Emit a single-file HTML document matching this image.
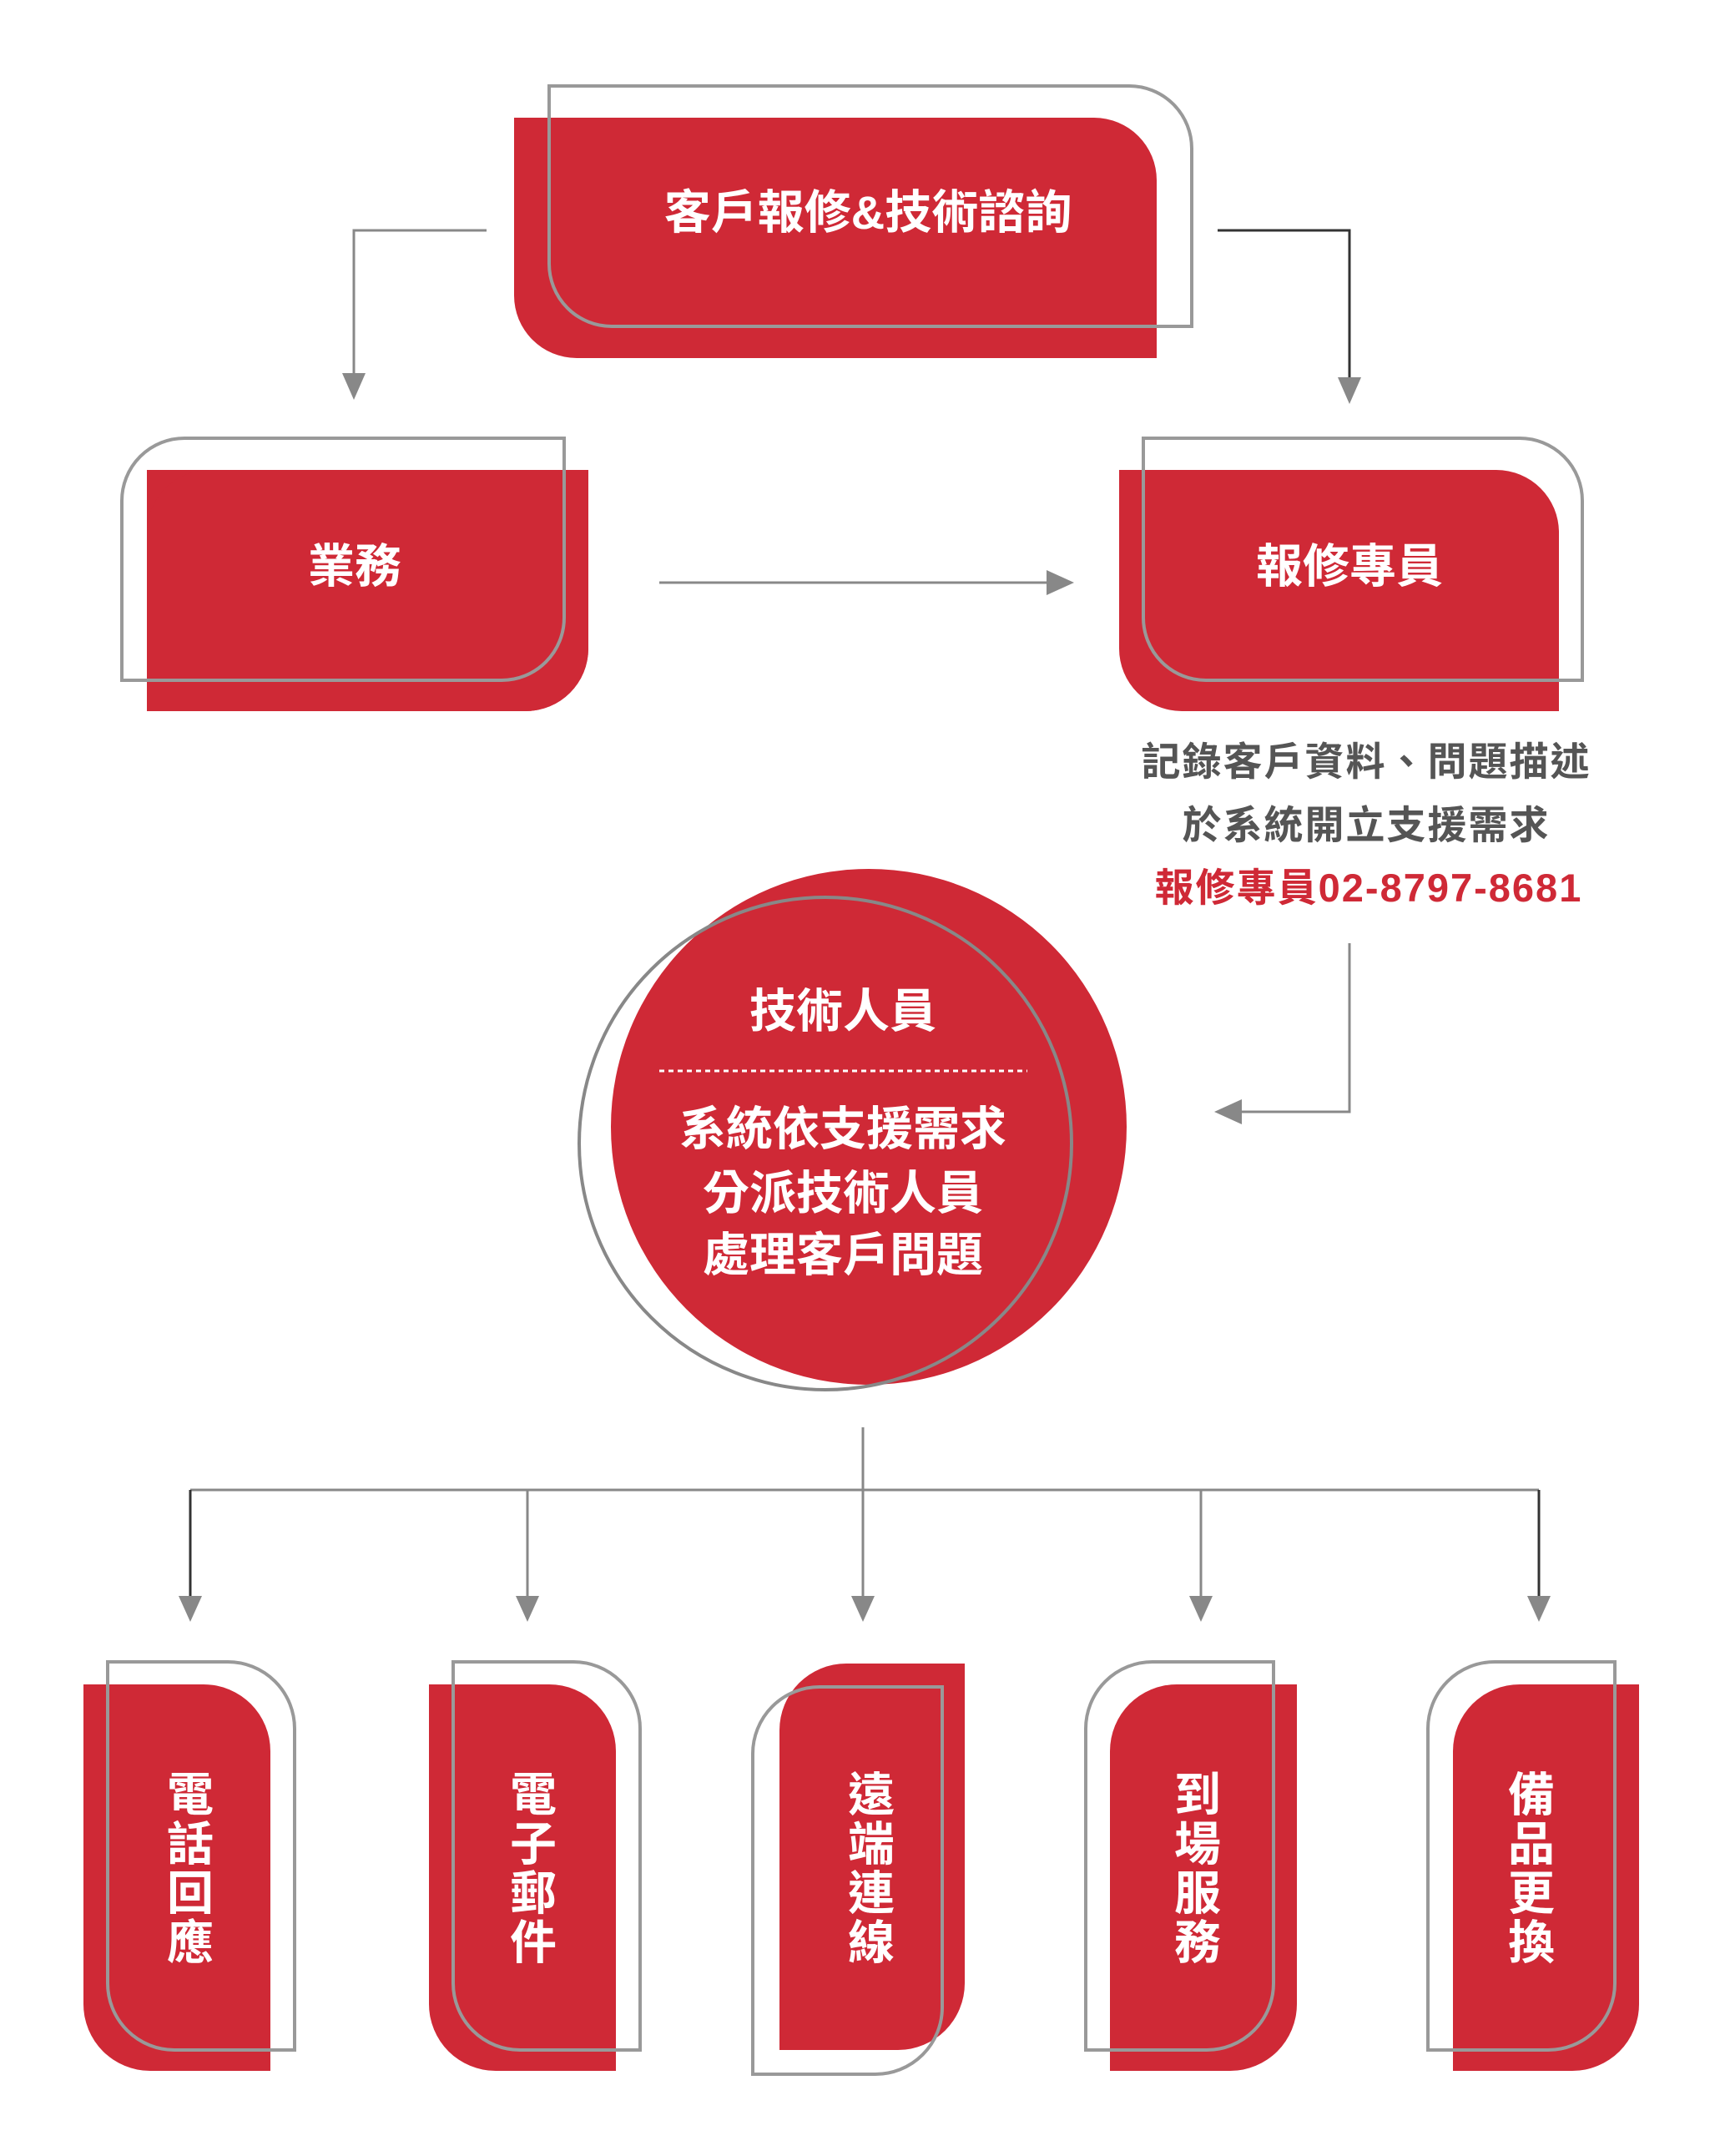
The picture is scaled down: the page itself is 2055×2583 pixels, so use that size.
<!DOCTYPE html>
<html><head><meta charset="utf-8"><style>
html,body{margin:0;padding:0;background:#fff}
svg{display:block}
text{font-family:"Liberation Sans","Noto Sans CJK TC",sans-serif}
.w{fill:#fff;font-weight:bold;font-size:56px;text-anchor:middle}
.g{fill:#555;font-weight:bold;font-size:47px;text-anchor:middle;letter-spacing:2px}
</style></head><body>
<svg width="2055" height="2583" viewBox="0 0 2055 2583" xmlns="http://www.w3.org/2000/svg">
<defs>
<marker id="ah" viewBox="0 0 10 10" refX="10" refY="5" markerWidth="10" markerHeight="10" markerUnits="userSpaceOnUse"><path d="M0,0 L10,5 L0,10z" fill="#888"/></marker>
</defs>
<g fill="none" stroke-width="3">
<!-- connectors -->
<polyline points="583,276 424,276 424,450" stroke="#888"/>
<path d="M410,447 L438,447 L424,479z" fill="#888" stroke="none"/>
<polyline points="1459,276 1617,276 1617,452" stroke="#333"/>
<path d="M1603,452 L1631,452 L1617,484z" fill="#888" stroke="none"/>
<line x1="790" y1="698" x2="1256" y2="698" stroke="#888"/>
<path d="M1254,683 L1254,713 L1287,698z" fill="#888" stroke="none"/>
<polyline points="1617,1130 1617,1332 1485,1332" stroke="#888"/>
<path d="M1488,1317 L1488,1347 L1455,1332z" fill="#888" stroke="none"/>
<line x1="1034" y1="1710" x2="1034" y2="1912" stroke="#888"/>
<line x1="228" y1="1785" x2="1844" y2="1785" stroke="#888"/>
<line x1="228" y1="1785" x2="228" y2="1912" stroke="#333"/>
<line x1="632" y1="1785" x2="632" y2="1912" stroke="#888"/>
<line x1="1439" y1="1785" x2="1439" y2="1912" stroke="#888"/>
<line x1="1844" y1="1785" x2="1844" y2="1912" stroke="#333"/>
</g>
<g fill="#888">
<path d="M214,1912 L242,1912 L228,1943z"/>
<path d="M618,1912 L646,1912 L632,1943z"/>
<path d="M1020,1912 L1048,1912 L1034,1943z"/>
<path d="M1425,1912 L1453,1912 L1439,1943z"/>
<path d="M1830,1912 L1858,1912 L1844,1943z"/>
</g>

<!-- top box -->
<path d="M616,141 H1311 A75,75 0 0 1 1386,216 V429 H691 A75,75 0 0 1 616,354 Z" fill="#cf2936"/>
<path d="M658,103 H1353 A75,75 0 0 1 1428,178 V391 H733 A75,75 0 0 1 658,316 Z" fill="none" stroke="#999" stroke-width="4"/>
<text class="w" x="1040" y="274">客戶報修&amp;技術諮詢</text>

<!-- business -->
<path d="M176,563 H705 V777 A75,75 0 0 1 630,852 H176 Z M176,563" fill="#cf2936"/>
<path d="M251,563 H705 V777 A75,75 0 0 1 630,852 H176 V638 A75,75 0 0 1 251,563 Z" fill="#cf2936"/>
<path d="M221,525 H676 V740 A75,75 0 0 1 601,815 H146 V600 A75,75 0 0 1 221,525 Z" fill="none" stroke="#999" stroke-width="4"/>
<text class="w" x="425" y="698">業務</text>

<!-- repair -->
<path d="M1341,563 H1793 A75,75 0 0 1 1868,638 V852 H1416 A75,75 0 0 1 1341,777 Z" fill="#cf2936"/>
<path d="M1370,525 H1821 A75,75 0 0 1 1896,600 V815 H1445 A75,75 0 0 1 1370,740 Z" fill="none" stroke="#999" stroke-width="4"/>
<text class="w" x="1617" y="698">報修專員</text>

<text class="g" x="1637" y="929">記錄客戶資料、問題描述</text>
<text class="g" x="1637" y="1005">於系統開立支援需求</text>
<text class="g" x="1640" y="1080" style="fill:#cf2936">報修專員02-8797-8681</text>

<!-- circle -->
<circle cx="1041" cy="1350" r="309" fill="#cf2936"/>
<circle cx="989" cy="1370" r="295" fill="none" stroke="#888" stroke-width="4"/>
<text class="w" x="1010" y="1231">技術人員</text>
<line x1="790" y1="1283" x2="1231" y2="1283" stroke="#fff" stroke-width="3" stroke-dasharray="6,5"/>
<text class="w" x="1010" y="1372">系統依支援需求</text>
<text class="w" x="1010" y="1449">分派技術人員</text>
<text class="w" x="1010" y="1523">處理客戶問題</text>

<!-- bottom boxes -->
<g stroke="#999" stroke-width="4">
<path d="M100,2018 H244 A80,80 0 0 1 324,2098 V2481 H180 A80,80 0 0 1 100,2401 Z" fill="#cf2936" stroke="none"/>
<path d="M129,1991 H273 A80,80 0 0 1 353,2071 V2456 H209 A80,80 0 0 1 129,2376 Z" fill="none"/>
<path d="M514,2018 H658 A80,80 0 0 1 738,2098 V2481 H594 A80,80 0 0 1 514,2401 Z" fill="#cf2936" stroke="none"/>
<path d="M543,1991 H687 A80,80 0 0 1 767,2071 V2456 H623 A80,80 0 0 1 543,2376 Z" fill="none"/>
<path d="M1014,1993 H1156 V2376 A80,80 0 0 1 1076,2456 H934 V2073 A80,80 0 0 1 1014,1993 Z" fill="#cf2936" stroke="none"/>
<path d="M982,2021 H1129 V2405 A80,80 0 0 1 1049,2485 H902 V2101 A80,80 0 0 1 982,2021 Z" fill="none"/>
<path d="M1410,2018 H1554 V2401 A80,80 0 0 1 1474,2481 H1330 V2098 A80,80 0 0 1 1410,2018 Z" fill="#cf2936" stroke="none"/>
<path d="M1381,1991 H1526 V2376 A80,80 0 0 1 1446,2456 H1301 V2071 A80,80 0 0 1 1381,1991 Z" fill="none"/>
<path d="M1821,2018 H1964 V2401 A80,80 0 0 1 1884,2481 H1741 V2098 A80,80 0 0 1 1821,2018 Z" fill="#cf2936" stroke="none"/>
<path d="M1791,1991 H1935 V2376 A80,80 0 0 1 1855,2456 H1711 V2071 A80,80 0 0 1 1791,1991 Z" fill="none"/>
</g>
<g class="w">
<text class="w" x="228" y="2170">電</text><text class="w" x="228" y="2229">話</text><text class="w" x="228" y="2288">回</text><text class="w" x="228" y="2347">應</text>
<text class="w" x="639" y="2170">電</text><text class="w" x="639" y="2229">子</text><text class="w" x="639" y="2288">郵</text><text class="w" x="639" y="2347">件</text>
<text class="w" x="1044" y="2170">遠</text><text class="w" x="1044" y="2229">端</text><text class="w" x="1044" y="2288">連</text><text class="w" x="1044" y="2347">線</text>
<text class="w" x="1435" y="2170">到</text><text class="w" x="1435" y="2229">場</text><text class="w" x="1435" y="2288">服</text><text class="w" x="1435" y="2347">務</text>
<text class="w" x="1835" y="2170">備</text><text class="w" x="1835" y="2229">品</text><text class="w" x="1835" y="2288">更</text><text class="w" x="1835" y="2347">換</text>
</g>
</svg>
</body></html>
